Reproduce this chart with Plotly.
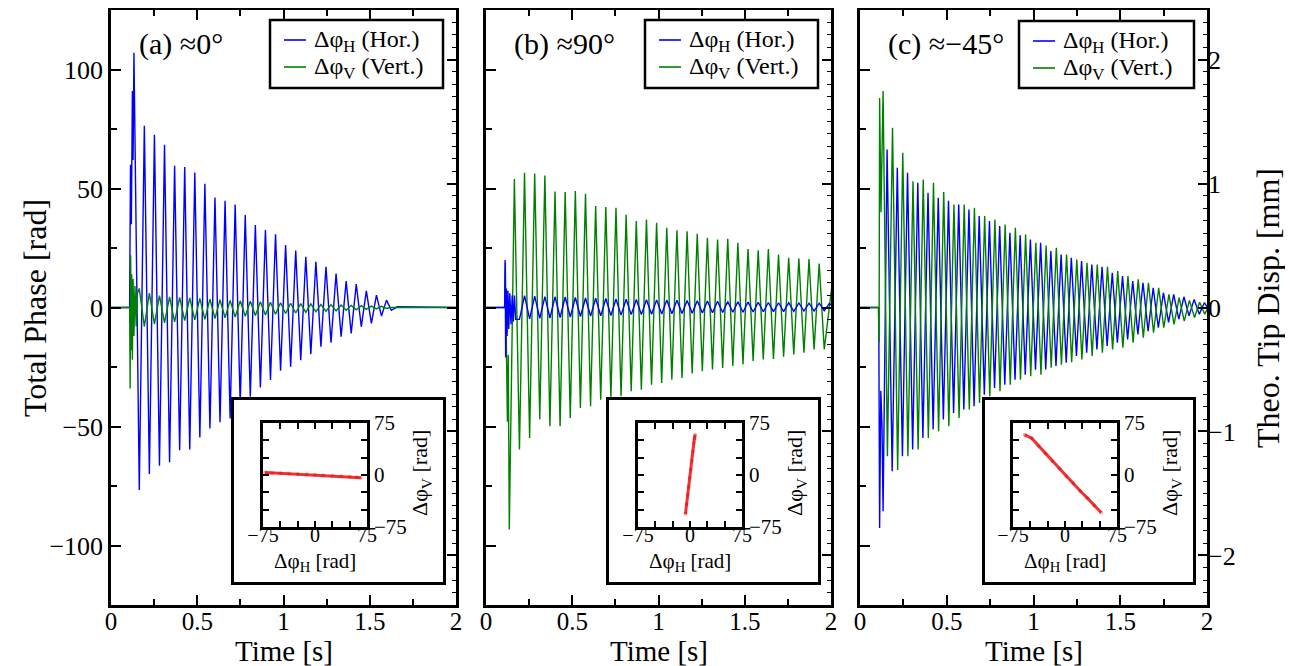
import plotly.graph_objects as go

W, H = 1293, 666
OFF = 8  # the page puts the figure 8 px in from the window corner
BLUE = "#0000ff"
GREEN = "#008000"
RED = "rgba(235,0,0,0.8)"
FONT = "Liberation Serif"

# ---------------- data ----------------
# each trace: a burst of points at the trigger, then alternating extrema spaced by half a period

# panel (a)  ~0 deg
period_a = 0.0585
a_h_burst_t = [0.0, 0.108, 0.113, 0.118, 0.124, 0.128, 0.133]
a_h_burst_v = [0.0, 0.0, 60, 35, 91, 62, 107]
a_h_t0 = 0.164
a_h_troughs = [-76.7, -70, -66.5, -65, -60, -59.7, -54.6, -50.8, -48.2, -46.6, -40.5, -37.5, -33.6,
               -30.5, -26.6, -24.9, -22.1, -19.6, -16.5, -14.8, -12.3, -10.9, -8.1, -6.7, -3.6]
a_h_peaks = [76.4, 72.6, 68.4, 59.6, 59, 56.7, 52, 46.2, 44.8, 43.3, 38.9, 34.7, 32.6,
             30.8, 26.3, 23.9, 21.3, 19.2, 17.1, 14.3, 11.1, 9.8, 7.0, 5.2, 3.1]
a_h_tail_t = [1.625, 1.66, 2.0]
a_h_tail_v = [-1.2, 0.3, 0.0]

a_v_burst_t = [0.0, 0.108, 0.111, 0.114, 0.117, 0.120, 0.124, 0.128, 0.133, 0.139, 0.146, 0.153]
a_v_burst_v = [0.0, 0.0, -34, 22, -18, 14, -22, 12, -12, 9, -8, 6]
a_v_t0 = 0.164
a_v_peaks = [8, 6, 5, 4.5, 4.2, 4, 3.8, 3.5, 3.3, 3, 2.8, 2.6, 2.4, 2.2, 2, 1.8, 1.6, 1.5,
             1.3, 1.2, 1, 0.9, 0.8, 0.6, 0.5]
a_v_troughs = [-8, -7, -6.5, -6, -5.5, -5.2, -5, -4.6, -4.3, -4, -3.7, -3.4, -3.1, -2.8, -2.5,
               -2.3, -2, -1.8, -1.6, -1.4, -1.2, -1, -0.8, -0.6, -0.4]
a_v_tail_t = [1.62, 2.0]
a_v_tail_v = [0.0, 0.0]

# panel (b)  ~90 deg
period_b = 0.0589
b_v_burst_t = [0.0, 0.108, 0.112, 0.118, 0.124, 0.129]
b_v_burst_v = [0.0, 0.0, 18.8, -10, -48, -20]
b_v_t0 = 0.135
b_v_troughs = [-93.3, -59.7, -54.8, -47, -49.9, -49.9, -46.4, -42.2, -41.5, -38.7, -38, -37.3,
               -35.2, -34.5, -32.4, -31.7, -30.3, -29.6, -27.7, -26.8, -26, -25.4, -24.6, -23.9,
               -22.5, -21.8, -21.6, -20.7, -19.7, -19, -17.6, -17.6]
b_v_peaks = [54, 56.6, 56.3, 55.5, 48.7, 48.5, 48.9, 47.8, 42.6, 42.2, 41.9, 39, 36.3, 37,
             35.6, 33.5, 32.5, 32, 31, 29.3, 28.6, 28.9, 27.2, 24.6, 24, 24.6, 22.3, 20.9,
             20.6, 20.4, 18.5]
b_v_tail_t = [2.02]
b_v_tail_v = [18.0]

b_h_burst_t = [0.0, 0.108, 0.111, 0.114, 0.118, 0.122, 0.127, 0.132, 0.138, 0.145, 0.152,
               0.158, 0.165, 0.172]
b_h_burst_v = [0.0, 0.0, 20, -21, 8, -12, 7, -9, 6, -7, 5, -6, 5, -5]
b_h_t0 = 0.194
b_h_troughs = [-5, -4.8, -4.6, -4.4, -4.2, -4, -3.8, -3.6, -3.5, -3.4, -3.2, -3, -3, -2.8,
               -2.7, -2.6, -2.5, -2.4, -2.3, -2.2, -2.1, -2, -2, -1.9, -1.8, -1.7, -1.7,
               -1.6, -1.5, -1.5, -1.4]
b_h_peaks = [5, 4.8, 4.6, 4.5, 4.4, 4.2, 4, 3.9, 3.8, 3.6, 3.5, 3.4, 3.3, 3.2, 3.1, 3,
             2.9, 2.8, 2.7, 2.6, 2.5, 2.4, 2.3, 2.2, 2.1, 2, 2, 1.9, 1.8, 1.8, 1.7]
b_h_tail_t = [2.02]
b_h_tail_v = [0.0]

# panel (c)  ~-45 deg
period_c = 0.059
c_h_burst_t = [0.0, 0.108, 0.113, 0.120, 0.127, 0.133]
c_h_burst_v = [0.0, 0.0, -92.6, -35, -50, -85.6]
c_h_t0 = 0.156
c_h_peaks = [66.4, 58.7, 56.6, 52.4, 48.2, 46.1, 44.8, 43.3, 41.2, 38.4, 36.3, 34.2, 31.4,
             30.4, 28.6, 27.2, 23.7, 22.3, 20.9, 19.5, 18.1, 17.1, 14.6, 13.2, 11.1, 10.4,
             8.3, 6.2, 5.5, 4.5, 3.4, 2.0]
c_h_troughs = [-68.8, -62.5, -59.7, -54.8, -51.3, -47.1, -44.3, -42.9, -41.5, -36.6, -33.8,
               -32.4, -30.3, -28.2, -26.1, -26, -24.6, -23.2, -20.4, -19, -17.6, -16.2,
               -14.8, -13.4, -11.3, -9.9, -8.5, -6.3, -4.9, -3.5, -2.8]
c_h_tail_t = [2.02]
c_h_tail_v = [-2.0]

c_v_burst_t = [0.0, 0.106, 0.110, 0.113, 0.121, 0.127, 0.133]
c_v_burst_v = [0.0, 0.0, -14.7, 88, 40, 60, 91]
c_v_t0 = 0.158
c_v_troughs = [-62.5, -68.3, -62.5, -59.7, -54.8, -52, -49.9, -46.4, -42.9, -40.1, -37.3,
               -35.2, -32.4, -30.3, -28.9, -28.2, -25.3, -24, -23, -21.8, -20.4, -19, -17.6,
               -16.9, -14.8, -12.7, -10.6, -8.5, -7.1, -5.7, -4.2, -2.8]
c_v_peaks = [75.5, 65, 53, 53.8, 52.4, 48.5, 43.3, 43.3, 41.9, 38.4, 37, 34.9, 33.5, 30.7,
             27.2, 26, 25.1, 22.3, 20.2, 18.8, 18.1, 17.1, 15.3, 13.2, 11.8, 10.4, 8.3, 5.5,
             4.1, 3, 2.2]
c_v_tail_t = [2.02]
c_v_tail_v = [2.0]

# inset scatter (dphi_H, dphi_V)
inset_a_h = [-72, -62, -50, -38, -25, -12, 0, 12, 25, 38, 50, 60, 66]
inset_a_v = [3.5, 3.0, 2.6, 2.0, 1.4, 1.0, 0.4, -0.3, -1.0, -1.8, -2.5, -3.2, -4.0]
inset_b_h = [-6.5, -5, -3.5, -2, -0.5, 1, 2.5, 4, 5.5, 6.5, 7.3]
inset_b_v = [-56, -42, -29, -17, -4, 8, 21, 34, 46, 53, 58]
inset_c_h = [-58, -48, -38, -28, -18, -8, 2, 12, 22, 32, 42, 52]
inset_c_v = [58, 53, 42, 31, 20, 9, -2, -12, -23, -33, -44, -54]

labels = ["(a) ≈0°", "(b) ≈90°", "(c) ≈−45°"]
legend_names = ["Δφ<sub>H</sub> (Hor.)", "Δφ<sub>V</sub> (Vert.)"]


def series(burst_t, burst_v, t0, period, first, second, tail_t, tail_v):
    t, v = list(burst_t), list(burst_v)
    for k, val in enumerate(first):
        t.append(t0 + k * period)
        v.append(val)
        if k < len(second):
            t.append(t0 + (k + 0.5) * period)
            v.append(second[k])
    return t + list(tail_t), v + list(tail_v)


panels = [
    dict(
        h=series(a_h_burst_t, a_h_burst_v, a_h_t0, period_a, a_h_troughs, a_h_peaks, a_h_tail_t, a_h_tail_v),
        v=series(a_v_burst_t, a_v_burst_v, a_v_t0, period_a, a_v_peaks, a_v_troughs, a_v_tail_t, a_v_tail_v),
        ins=(inset_a_h, inset_a_v), green_on_top=True),
    dict(
        h=series(b_h_burst_t, b_h_burst_v, b_h_t0, period_b, b_h_troughs, b_h_peaks, b_h_tail_t, b_h_tail_v),
        v=series(b_v_burst_t, b_v_burst_v, b_v_t0, period_b, b_v_troughs, b_v_peaks, b_v_tail_t, b_v_tail_v),
        ins=(inset_b_h, inset_b_v), green_on_top=False),
    dict(
        h=series(c_h_burst_t, c_h_burst_v, c_h_t0, period_c, c_h_peaks, c_h_troughs, c_h_tail_t, c_h_tail_v),
        v=series(c_v_burst_t, c_v_burst_v, c_v_t0, period_c, c_v_troughs, c_v_peaks, c_v_tail_t, c_v_tail_v),
        ins=(inset_c_h, inset_c_v), green_on_top=True),
]

# pixel geometry of the layout (window pixels)
panel_x = [(111, 456), (486, 831), (860, 1207)]
panel_y = (10, 605)
box_x = [(234, 443), (609, 818), (985, 1193)]
box_y = (400, 582)
ins_x = [(263, 367), (638, 742), (1013, 1117)]
ins_y = (423, 527)
leg_box = [(270, 20, 443, 88), (645, 20, 818, 88), (1019, 21, 1194, 88)]


def dx(p):
    return (p - OFF) / W


def dy(p):
    return 1 - (p - OFF) / H


def note(text, x, y, size, angle=0, xanchor="center"):
    return dict(text=text, x=dx(x), y=dy(y), xref="paper", yref="paper", xanchor=xanchor,
                yanchor="middle", showarrow=False, textangle=angle,
                font=dict(family=FONT, size=size, color="black"))


fig = go.Figure()
layout = dict(width=W, height=H, margin=dict(l=0, r=0, t=0, b=0, autoexpand=False),
              autosize=False, paper_bgcolor="white", plot_bgcolor="white", showlegend=False,
              font=dict(family=FONT, color="black", size=22))
annotations = []
shapes = []
tick_common = dict(ticks="inside", tickcolor="black", tickwidth=1.5, showgrid=False,
                   zeroline=False, linecolor="black", linewidth=2.5)

for i, p in enumerate(panels):
    n = i + 1
    xs = "" if n == 1 else str(n)
    h_tr = go.Scatter(x=p["h"][0], y=p["h"][1], mode="lines", line=dict(color=BLUE, width=1.4),
                      name=legend_names[0], xaxis="x" + xs, yaxis="y" + xs, hoverinfo="skip")
    v_tr = go.Scatter(x=p["v"][0], y=p["v"][1], mode="lines", line=dict(color=GREEN, width=1.4),
                      name=legend_names[1], xaxis="x" + xs, yaxis="y" + xs, hoverinfo="skip")
    if p["green_on_top"]:
        fig.add_trace(h_tr)
        fig.add_trace(v_tr)
    else:
        fig.add_trace(v_tr)
        fig.add_trace(h_tr)

    x0, x1 = panel_x[i]
    layout["xaxis" + xs] = dict(domain=[dx(x0), dx(x1)], range=[0, 2], anchor="y" + xs,
                                dtick=0.5, ticklen=10, mirror="ticks", showline=True,
                                ticklabelstandoff=-8,
                                minor=dict(dtick=0.25, ticklen=6, ticks="inside",
                                           tickcolor="black", tickwidth=1.5),
                                tickfont=dict(size=25), **tick_common)
    layout["yaxis" + xs] = dict(domain=[dy(panel_y[1]), dy(panel_y[0])], range=[-125, 125],
                                anchor="x" + xs, dtick=50, ticklen=10, mirror=True,
                                showline=True, showticklabels=(i == 0),
                                minor=dict(dtick=25, ticklen=6, ticks="inside",
                                           tickcolor="black", tickwidth=1.5),
                                tickfont=dict(size=26), **tick_common)
    # right axis in mm
    layout["yaxis%d" % (10 + i)] = dict(overlaying="y" + xs, side="right", anchor="x" + xs,
                                        range=[-2.4, 2.4], dtick=1, ticklen=9, showline=False,
                                        showticklabels=(i == 2),
                                        minor=dict(dtick=0.1, ticklen=4, ticks="inside",
                                                   tickcolor="black", tickwidth=1.2),
                                        tickfont=dict(size=26), **tick_common)
    fig.add_trace(go.Scatter(x=[], y=[], xaxis="x" + xs, yaxis="y%d" % (10 + i),
                             showlegend=False, hoverinfo="skip"))

    # white box behind the inset
    bn = 4 + i
    bx0, bx1 = box_x[i]
    layout["xaxis%d" % bn] = dict(domain=[dx(bx0), dx(bx1)], range=[0, 1], anchor="y%d" % bn,
                                  showline=True, mirror=True, linecolor="black", linewidth=2.5,
                                  showticklabels=False, ticks="", showgrid=False, zeroline=False)
    layout["yaxis%d" % bn] = dict(domain=[dy(box_y[1]), dy(box_y[0])], range=[0, 1],
                                  anchor="x%d" % bn, showline=True, mirror=True,
                                  linecolor="black", linewidth=2.5, showticklabels=False,
                                  ticks="", showgrid=False, zeroline=False)
    fig.add_trace(go.Scatter(x=[], y=[], xaxis="x%d" % bn, yaxis="y%d" % bn,
                             showlegend=False, hoverinfo="skip"))

    # inset scatter
    inn = 7 + i
    ix0, ix1 = ins_x[i]
    tv = [-75, -50, -25, 0, 25, 50, 75]
    tt = ["−75", "", "", "0", "", "", "75"]
    layout["xaxis%d" % inn] = dict(domain=[dx(ix0), dx(ix1)], range=[-75, 75],
                                   anchor="y%d" % inn, tickvals=tv, ticktext=tt, ticklen=6,
                                   mirror="ticks", showline=True, tickfont=dict(size=20),
                                   ticklabelstandoff=-12, **tick_common)
    layout["yaxis%d" % inn] = dict(domain=[dy(ins_y[1]), dy(ins_y[0])], range=[-75, 75],
                                   anchor="x%d" % inn, side="right", tickvals=tv, ticktext=tt,
                                   ticklen=6, mirror="ticks", showline=True,
                                   tickfont=dict(size=21), **tick_common)
    fig.add_trace(go.Scatter(x=p["ins"][0], y=p["ins"][1], mode="lines+markers",
                             line=dict(color=RED, width=3),
                             marker=dict(color="rgba(235,0,0,0.35)", size=4),
                             xaxis="x%d" % inn, yaxis="y%d" % inn, showlegend=False,
                             hoverinfo="skip"))

    # legend box drawn on top of the traces
    lx0, ly0, lx1, ly1 = leg_box[i]
    shapes.append(dict(type="rect", xref="paper", yref="paper", layer="above",
                       x0=dx(lx0), x1=dx(lx1), y0=dy(ly1), y1=dy(ly0),
                       fillcolor="white", line=dict(color="black", width=2.5)))
    for row, (col, name) in enumerate(zip([BLUE, GREEN], legend_names)):
        ry = ly0 + 20 + row * 27
        shapes.append(dict(type="line", xref="paper", yref="paper", layer="above",
                           x0=dx(lx0 + 14), x1=dx(lx0 + 36), y0=dy(ry), y1=dy(ry),
                           line=dict(color=col, width=1.6)))
        annotations.append(note(name, lx0 + 42, ry + 1, 24, xanchor="left"))

    # texts
    annotations.append(note(labels[i], x0 + 26, 44, 30, xanchor="left"))
    annotations.append(note("Time [s]", (x0 + x1) / 2, 651, 29))
    annotations.append(note("Δφ<sub>H</sub> [rad]", (ix0 + ix1) / 2, 562, 21))
    annotations.append(note("Δφ<sub>V</sub> [rad]", ix1 + 54, 473, 22, angle=-90))

annotations.append(note("Total Phase [rad]", 35, 308, 32, angle=-90))
annotations.append(note("Theo. Tip Disp. [mm]", 1268, 308, 32, angle=-90))
layout["annotations"] = annotations
layout["shapes"] = shapes

fig.update_layout(**layout)
fig.write_html("out.html")
